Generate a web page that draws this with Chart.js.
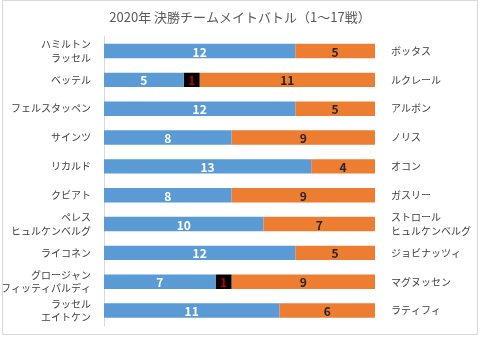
<!DOCTYPE html>
<html>
<head>
<meta charset="utf-8">
<script src="https://cdn.jsdelivr.net/npm/chart.js@4/dist/chart.umd.min.js"></script>
<style>
  body { margin: 0; background: #fff; }
  #frame { position: absolute; left: 2px; top: 0; width: 474px; height: 333px; border: 1px solid #d9d9d9; }
</style>
</head>
<body>
<div id="frame"><canvas id="battle" width="474" height="333"></canvas></div>
<script>
const leftDrivers = [["ハミルトン", "ラッセル"], "ベッテル", "フェルスタッペン", "サインツ", "リカルド",
    "クビアト", ["ペレス", "ヒュルケンベルグ"], "ライコネン", ["グロージャン", "フィッティパルディ"], ["ラッセル", "エイトケン"]];
const rightDrivers = ["ボッタス", "ルクレール", "アルボン", "ノリス", "オコン",
    "ガスリー", ["ストロール", "ヒュルケンベルグ"], "ジョビナッツィ", "マグヌッセン", "ラティフィ"];
const leftWins = [12, 5, 12, 8, 13, 8, 10, 12, 7, 11];
const draws = [0, 1, 0, 0, 0, 0, 0, 0, 1, 0];
const rightWins = [5, 11, 5, 9, 4, 9, 7, 5, 9, 6];

const jpFont = "'Noto Sans CJK JP', 'Noto Sans', sans-serif";
const nameFont = { family: jpFont, size: 10, lineHeight: 1.35 };

// fixed side widths, and no extra room for the two-line names at the ends
const fitSide = w => s => {
    s.width = w;
    s.paddingTop = 0;
    s.paddingBottom = 0;
};

// numbers in the middle of each segment
const segmentLabels = {
    id: 'segmentLabels',
    afterDatasetsDraw(chart) {
        const ctx = chart.ctx;
        ctx.save();
        ctx.font = "bold 12px " + jpFont;
        ctx.textAlign = 'center';
        ctx.textBaseline = 'middle';
        chart.data.datasets.forEach((ds, i) => {
            chart.getDatasetMeta(i).data.forEach((bar, j) => {
                const v = ds.data[j];
                if (!v) return;
                ctx.fillStyle = ds.labelColor;
                ctx.fillText(v, (bar.x + bar.base) / 2, bar.y + 1);
            });
        });
        ctx.restore();
    }
};

new Chart(document.getElementById("battle"), {
    type: 'bar',
    data: {
        labels: leftDrivers,
        datasets: [
            { data: leftWins, backgroundColor: '#5b9bd5', labelColor: '#ffffff' },
            { data: draws, backgroundColor: '#000000', labelColor: '#c00000' },
            { data: rightWins, backgroundColor: '#ed7d31', labelColor: '#262626' }
        ]
    },
    options: {
        indexAxis: 'y',
        responsive: false,
        animation: false,
        barPercentage: 0.5,
        categoryPercentage: 1,
        layout: { padding: { top: 0, bottom: 9, left: 0, right: 0 } },
        scales: {
            x: { stacked: true, min: 0, max: 17, display: false },
            y: {
                stacked: true,
                grid: { display: false },
                border: { color: '#d9d9d9' },
                ticks: { color: '#404040', font: nameFont, padding: 5, autoSkip: false },
                afterFit: fitSide(101)
            },
            y2: {
                type: 'category',
                labels: rightDrivers,
                position: 'right',
                grid: { display: false },
                border: { display: false },
                ticks: { color: '#404040', font: nameFont, padding: 8, autoSkip: false },
                afterFit: fitSide(102)
            }
        },
        plugins: {
            legend: { display: false },
            tooltip: { enabled: false },
            title: {
                display: true,
                text: "2020年 決勝チームメイトバトル（1～17戦）",
                color: '#595959',
                font: { family: jpFont, size: 13, weight: 'normal' },
                padding: { top: 8, bottom: 12 }
            }
        }
    },
    plugins: [segmentLabels]
});
</script>
</body>
</html>
